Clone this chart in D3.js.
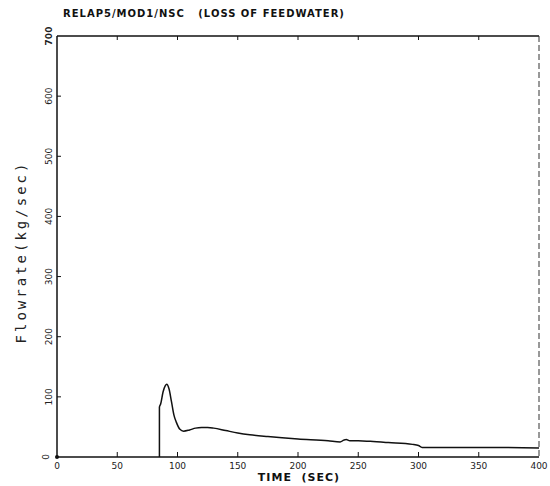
<!DOCTYPE html>
<html>
<head>
<meta charset="utf-8">
<script src="https://cdn.jsdelivr.net/npm/d3@7"></script>
<style>
  body { margin: 0; background: #fff; }
  svg { display: block; }
</style>
</head>
<body>
<svg id="chart"></svg>
<script>
const width = 550, height = 486;

// Flowrate curve (time in sec, flow in kg/sec)
const timeSec = [85, 85, 86, 88, 90, 91, 93, 95, 97, 99, 102, 105, 110, 115, 120, 125, 130, 140, 150, 160, 175, 200, 225, 235, 238, 240, 243, 250, 260, 275, 295, 300, 303, 350, 400];
const flowRate = [0, 83, 88, 108, 119, 121, 113, 92, 70, 58, 46, 43, 45, 48, 49, 49, 48, 44, 40, 37, 34, 30, 27, 25, 28, 29, 27, 27, 26, 24, 21, 19, 16, 16, 15];

const xTicks = [0, 50, 100, 150, 200, 250, 300, 350, 400];
const yTicks = [0, 100, 200, 300, 400, 500, 600, 700];

const svg = d3.select("#chart")
  .attr("width", width)
  .attr("height", height)
  .style("background", "#fff");

const x = d3.scaleLinear().domain([0, 400]).range([57, 539]);
const y = d3.scaleLinear().domain([0, 700]).range([457, 36]);

// Frame: left axis, bottom axis, top line, dashed right edge
svg.append("line")
  .attr("x1", x(0)).attr("x2", x(0))
  .attr("y1", y(0)).attr("y2", y(700))
  .style("stroke", "#111").style("stroke-width", 1.5);
svg.append("line")
  .attr("x1", x(0)).attr("x2", x(400))
  .attr("y1", y(0)).attr("y2", y(0))
  .style("stroke", "#111").style("stroke-width", 1.5);
svg.append("line")
  .attr("x1", x(0)).attr("x2", x(400))
  .attr("y1", y(700)).attr("y2", y(700))
  .style("stroke", "#111").style("stroke-width", 1.5);
svg.append("line")
  .attr("x1", x(400)).attr("x2", x(400))
  .attr("y1", y(700)).attr("y2", y(0))
  .style("stroke", "#333").style("stroke-width", 1)
  .style("stroke-dasharray", "6,3");

// Tick marks
svg.append("g")
  .selectAll("line")
  .data(xTicks.slice(1, -1))
  .enter()
  .append("line")
    .attr("x1", d => x(d)).attr("x2", d => x(d))
    .attr("y1", y(0)).attr("y2", y(0) - 5)
    .style("stroke", "#111");
svg.append("g")
  .selectAll("line")
  .data(xTicks.slice(1, -1))
  .enter()
  .append("line")
    .attr("x1", d => x(d)).attr("x2", d => x(d))
    .attr("y1", y(700)).attr("y2", y(700) + 4)
    .style("stroke", "#111");
svg.append("g")
  .selectAll("line")
  .data(yTicks.slice(1, -1))
  .enter()
  .append("line")
    .attr("x1", x(0)).attr("x2", x(0) + 4)
    .attr("y1", d => y(d)).attr("y2", d => y(d))
    .style("stroke", "#111");
svg.append("circle")
  .attr("cx", x(0)).attr("cy", y(0)).attr("r", 2)
  .style("fill", "#111");

// Tick labels
svg.append("g")
  .selectAll("text")
  .data(xTicks)
  .enter()
  .append("text")
    .attr("x", d => x(d))
    .attr("y", 469)
    .attr("text-anchor", "middle")
    .style("font-family", "'DejaVu Sans', sans-serif")
    .style("font-size", "9px")
    .style("fill", "#222")
    .text(d => d);

svg.append("g")
  .selectAll("text")
  .data(yTicks)
  .enter()
  .append("text")
    .attr("transform", d => `translate(${d === 0 ? 49 : 52},${y(d)}) rotate(-90)`)
    .attr("text-anchor", "middle")
    .style("font-family", "'DejaVu Sans', sans-serif")
    .style("font-size", "9px")
    .style("font-weight", d => d === 700 ? "bold" : "normal")
    .style("fill", "#222")
    .text(d => d);

// Titles
svg.append("text")
  .attr("x", 63)
  .attr("y", 17)
  .style("font-family", "'DejaVu Sans', sans-serif")
  .style("font-size", "10px")
  .style("font-weight", "bold")
  .style("letter-spacing", "1px")
  .style("fill", "#111")
  .attr("xml:space", "preserve")
  .text("RELAP5/MOD1/NSC   (LOSS OF FEEDWATER)");

svg.append("text")
  .attr("x", 299)
  .attr("y", 481)
  .attr("text-anchor", "middle")
  .style("font-family", "'DejaVu Sans', sans-serif")
  .style("font-size", "11px")
  .style("font-weight", "bold")
  .style("letter-spacing", "1px")
  .style("fill", "#111")
  .attr("xml:space", "preserve")
  .text("TIME  (SEC)");

svg.append("text")
  .attr("transform", "translate(26,252) rotate(-90)")
  .attr("text-anchor", "middle")
  .style("font-family", "'DejaVu Sans Mono', monospace")
  .style("font-size", "14px")
  .style("letter-spacing", "3px")
  .style("fill", "#222")
  .text("Flowrate(kg/sec)");

// Flowrate curve
const line = d3.line()
  .x((d, i) => x(timeSec[i]))
  .y(d => y(d))
  .curve(d3.curveMonotoneX);

svg.append("path")
  .datum(flowRate)
  .attr("d", line)
  .style("fill", "none")
  .style("stroke", "#111")
  .style("stroke-width", 1.5);
</script>
</body>
</html>
